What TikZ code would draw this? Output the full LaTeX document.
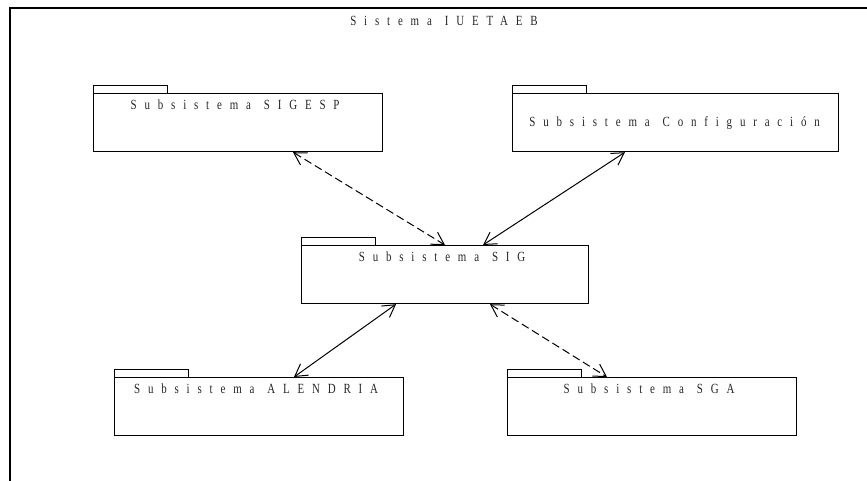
\documentclass[tikz,border=0pt]{standalone}
\usepackage{fontspec}
\usetikzlibrary{arrows.meta,calc}
\newfontfamily\pkgfont[LetterSpace=56,FakeStretch=0.78]{Liberation Serif}
\begin{document}
\begin{tikzpicture}[x=1pt,y=-1pt,
  pkgbody/.style={draw,line width=1.2pt,rectangle,inner sep=0pt,anchor=north west},
  pkgtab/.style={draw,line width=0.9pt},
  pkglabel/.style={font=\pkgfont\fontsize{14}{16}\selectfont,inner sep=0pt,anchor=center,text=black!85},
  dep/.style={line width=1pt,{Straight Barb[length=12pt,width=14pt]}-{Straight Barb[length=12pt,width=14pt]}},
  depdash/.style={dep,dash pattern=on 8pt off 4pt}]
\useasboundingbox (0,0) rectangle (867,481);
\fill[white] (0,0) rectangle (867,481);

% outer system frame (only top and left edges visible)
\coordinate (frameBL) at (10,481);
\coordinate (frameTL) at (10,8);
\coordinate (frameTR) at (867,8);
\draw[line width=1.3pt] (frameBL) -- (frameTL) -- (frameTR);
\node[pkglabel] (title) at (444,21) {Sistema\, IUETAEB};

% package helper: body rectangle + tab on top-left
\newcommand{\pkg}[5]{% name, x, y, width, height
  \node[pkgbody,minimum width=#4pt,minimum height=#5pt] (#1) at (#2,#3) {};
  \draw[pkgtab] (#1.north west) -- ++(0,-8) -- ++(74,0) -- ++(0,8);
}

\pkg{sigesp}{93}{93}{289}{58}
\pkg{config}{512}{93}{326}{58}
\pkg{sig}{301}{245}{287}{58}
\pkg{alendria}{114}{377}{289}{58}
\pkg{sga}{507}{377}{289}{58}

\node[pkglabel] (tsigesp) at ($(sigesp.north)+(-3,12)$) {Subsistema\, SIGESP};
\node[pkglabel] (tconfig) at ($(config.center)+(-1,0)$) {Subsistema\, Configuración};
\node[pkglabel] (tsig) at ($(sig.north)+(-3,12)$) {Subsistema\, SIG};
\node[pkglabel] (talendria) at ($(alendria.north)+(-3,12)$) {Subsistema\, ALENDRIA};
\node[pkglabel] (tsga) at ($(sga.north)+(-3,12)$) {Subsistema\, SGA};

% dependencies
\draw[depdash] ([xshift=200pt]sigesp.south west) -- ([xshift=144pt]sig.north west);
\draw[dep] ([xshift=113pt]config.south west) -- ([xshift=182pt]sig.north west);
\draw[dep] ([xshift=95pt]sig.south west) -- ([xshift=180pt]alendria.north west);
\draw[depdash] ([xshift=189pt]sig.south west) -- ([xshift=100pt]sga.north west);
\end{tikzpicture}
\end{document}
